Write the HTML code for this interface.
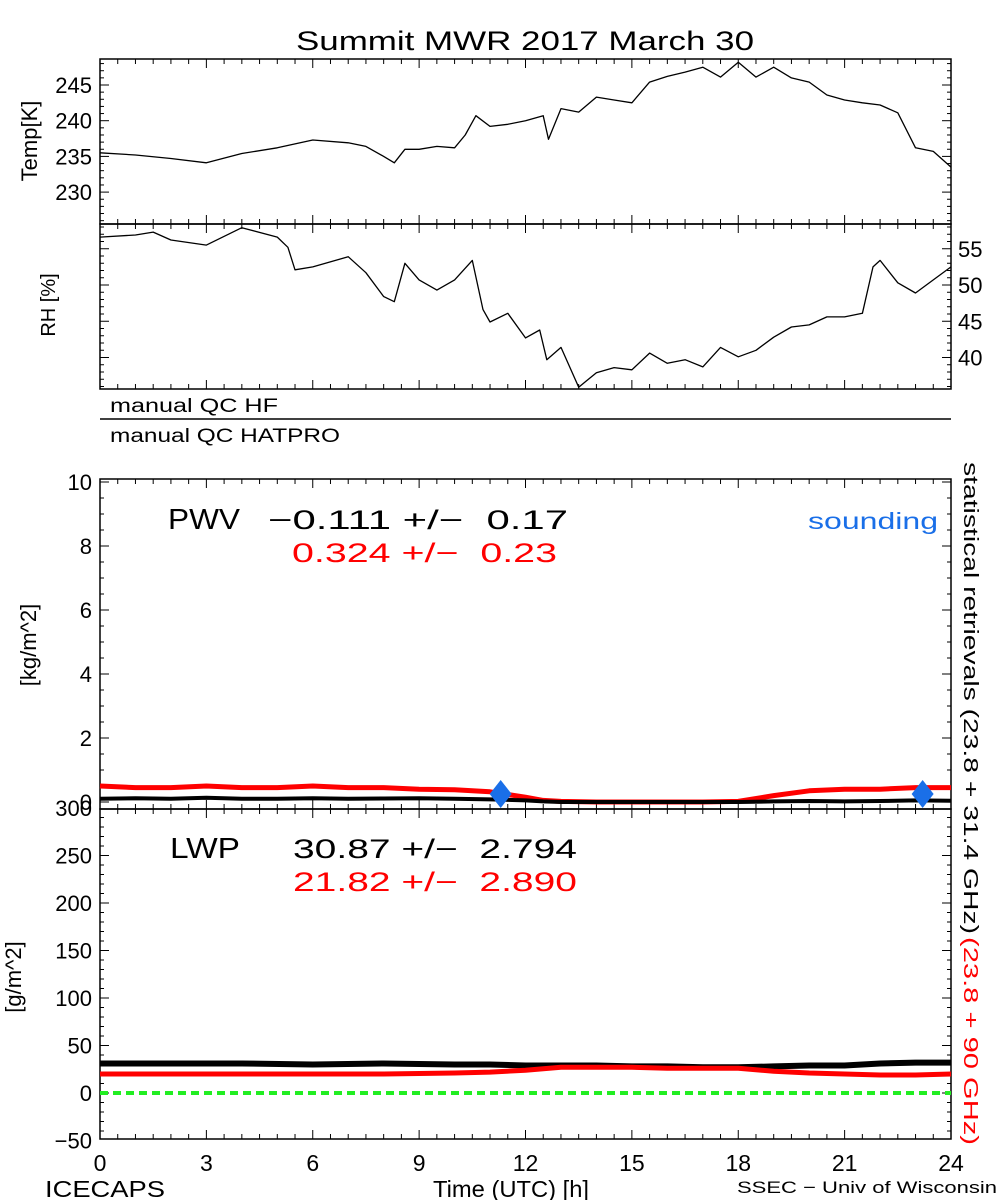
<!DOCTYPE html>
<html><head><meta charset="utf-8"><style>
html,body{margin:0;padding:0;background:#fff;}
svg{display:block;font-family:"Liberation Sans",sans-serif;}
</style></head><body>
<svg id="chart" width="1000" height="1200" viewBox="0 0 1000 1200" xmlns="http://www.w3.org/2000/svg">
<rect width="1000" height="1200" fill="#fff"/>
<text x="296" y="50" font-size="27" textLength="458" lengthAdjust="spacingAndGlyphs">Summit MWR 2017 March 30</text>
<g id="axes"></g>
<g id="marks"></g>
<text transform="translate(37,141) rotate(-90)" font-size="22" text-anchor="middle">Temp[K]</text>
<text transform="translate(55,305) rotate(-90)" font-size="20" text-anchor="middle">RH [%]</text>
<text x="110" y="412" font-size="19" textLength="168" lengthAdjust="spacingAndGlyphs">manual QC HF</text>
<line x1="100" y1="419" x2="951" y2="419" stroke="#000" stroke-width="1.5"/>
<text x="110" y="442" font-size="19" textLength="230" lengthAdjust="spacingAndGlyphs">manual QC HATPRO</text>
<text transform="translate(36,645) rotate(-90)" font-size="22" text-anchor="middle">[kg/m^2]</text>
<text transform="translate(21,977) rotate(-90)" font-size="22" text-anchor="middle">[g/m^2]</text>
<text x="168" y="529" font-size="29" textLength="72" lengthAdjust="spacingAndGlyphs">PWV</text>
<text x="268" y="529" font-size="27" xml:space="preserve" textLength="300" lengthAdjust="spacingAndGlyphs">−0.111 +/−  0.17</text>
<text x="292" y="562" font-size="27" fill="#ff0000" xml:space="preserve" textLength="265" lengthAdjust="spacingAndGlyphs">0.324 +/−  0.23</text>
<text x="808" y="529" font-size="23" fill="#1a6fe8" textLength="130" lengthAdjust="spacingAndGlyphs">sounding</text>
<text x="170" y="858" font-size="29" textLength="70" lengthAdjust="spacingAndGlyphs">LWP</text>
<text x="293" y="858" font-size="27" xml:space="preserve" textLength="284" lengthAdjust="spacingAndGlyphs">30.87 +/−  2.794</text>
<text x="293" y="891" font-size="27" fill="#ff0000" xml:space="preserve" textLength="284" lengthAdjust="spacingAndGlyphs">21.82 +/−  2.890</text>
<text transform="translate(964,462) rotate(90)" font-size="20" textLength="472" lengthAdjust="spacingAndGlyphs">statistical retrievals (23.8 + 31.4 GHz)</text>
<text transform="translate(964,937) rotate(90)" font-size="20" fill="#ff0000" textLength="208" lengthAdjust="spacingAndGlyphs">(23.8 + 90 GHz)</text>
<text x="45" y="1197" font-size="23" textLength="120" lengthAdjust="spacingAndGlyphs">ICECAPS</text>
<text x="433" y="1197" font-size="23" textLength="156" lengthAdjust="spacingAndGlyphs">Time (UTC) [h]</text>
<text x="737" y="1193" font-size="17" textLength="260" lengthAdjust="spacingAndGlyphs">SSEC − Univ of Wisconsin</text>
</svg>
<script>
const hours = [0,1,2,3,4,5,6,7,7.5,8,8.3,8.6,9,9.5,10,10.3,10.6,11,11.5,12,12.5,12.65,13,13.5,14,14.5,15,15.5,16,16.5,17,17.5,18,18.5,19,19.5,20,20.5,21,21.5,22,22.5,23,23.5,24];
const tempK = [235.5,235.2,234.7,234.1,235.4,236.2,237.3,236.9,236.4,235.0,234.1,236.0,236.0,236.4,236.2,238.0,240.7,239.2,239.5,240.0,240.7,237.4,241.7,241.2,243.3,242.9,242.5,245.4,246.2,246.8,247.5,246.1,248.2,246.1,247.5,246.0,245.4,243.6,242.9,242.5,242.2,241.1,236.2,235.7,233.5];
const rhHours = [0,1,1.5,2,3,4,5,5.3,5.5,6,7,7.5,8,8.3,8.6,9,9.5,10,10.5,10.8,11,11.5,12,12.4,12.6,13,13.5,14,14.5,15,15.5,16,16.5,17,17.5,18,18.5,19,19.5,20,20.5,21,21.5,21.8,22,22.5,23,23.5,24];
const rhPct = [56.6,56.9,57.3,56.2,55.5,57.9,56.6,55.2,52.1,52.5,53.9,51.7,48.4,47.7,53.0,50.7,49.3,50.7,53.4,46.6,44.9,46.1,42.7,43.8,39.7,41.4,35.9,37.9,38.6,38.3,40.6,39.2,39.7,38.7,41.4,40.1,41.0,42.8,44.2,44.5,45.6,45.6,46.1,52.5,53.4,50.3,48.9,50.7,52.5];
const pwvHours = [0,1,2,3,4,5,6,7,8,9,10,11,12,12.5,13,14,15,16,17,18,19,20,21,22,23,24];
const pwvBlack = [0.1,0.12,0.1,0.13,0.1,0.1,0.12,0.1,0.11,0.12,0.1,0.08,0.05,0.02,0,0,0,0,0,0,0.02,0.03,0.02,0.03,0.05,0.04];
const pwvRed = [0.5,0.45,0.45,0.5,0.45,0.45,0.5,0.45,0.45,0.4,0.38,0.32,0.15,0.05,0.02,0,0,0,0,0.02,0.2,0.35,0.4,0.4,0.45,0.45];
const soundHours = [11.3,23.2];
const soundPwv = [0.25,0.25];
const lwpHours = [0,2,4,6,8,10,11,12,13,14,15,16,17,18,19,20,21,22,23,24];
const lwpBlack = [31,31,31,30,31,30,30,29,29,29,28,28,27,27,28,29,29,31,32,32];
const lwpRed = [20,20,20,20,20,21,22,24,27,27,27,26,26,26,23,21,20,19,19,20];
const xTicks = [0,3,6,9,12,15,18,21,24];
const tempTicks = [230,235,240,245];
const rhTicks = [40,45,50,55];
const pwvTicks = [0,2,4,6,8,10];
const lwpTicks = [-50,0,50,100,150,200,250,300];

const NS = "http://www.w3.org/2000/svg";
const X0 = 100, X1 = 951;
const xs = h => X0 + (X1 - X0) * h / 24;
const yT = v => 85 + (245 - v) * 7.14;
const yRH = v => 285 + (50 - v) * 7.25;
const yP = v => 802 - 32 * v;
const yL = v => 1093 - 0.95 * v;
const axes = document.getElementById('axes');
const marks = document.getElementById('marks');
function mk(tag, attrs, parent) {
  const e = document.createElementNS(NS, tag);
  for (const k in attrs) e.setAttribute(k, attrs[k]);
  parent.appendChild(e);
  return e;
}
const panels = [
  {name:'temp', top:59, bot:224},
  {name:'rh', top:224, bot:389},
  {name:'pwv', top:479, bot:809},
  {name:'lwp', top:809, bot:1139}
];
panels.forEach(p => {
  const r = mk('rect', {x:X0, y:p.top, width:X1-X0, height:p.bot-p.top, fill:'none', stroke:'#000', 'stroke-width':1.5}, axes);
  
  
  for (let h = 0; h <= 24; h += 0.5) {
    const major = (h % 3 === 0);
    const len = major ? 9 : 5;
    const x = xs(h);
    mk('line', {x1:x, y1:p.bot, x2:x, y2:p.bot-len, stroke:'#000', 'stroke-width':1}, axes);
    mk('line', {x1:x, y1:p.top, x2:x, y2:p.top+len, stroke:'#000', 'stroke-width':1}, axes);
  }
});
function yTicks(vals, minorStep, lo, hi, f, top, bot, labelLeft, labelRight, name) {
  for (let v = lo; v <= hi + 1e-9; v += minorStep) {
    const y = f(v);
    if (y < top - 0.5 || y > bot + 0.5) continue;
    const major = vals.some(t => Math.abs(t - v) < 1e-6);
    const len = major ? 9 : 4;
    mk('line', {x1:X0, y1:y, x2:X0+len, y2:y, stroke:'#000'}, axes);
    mk('line', {x1:X1, y1:y, x2:X1-len, y2:y, stroke:'#000'}, axes);
  }
  vals.forEach(v => {
    const y = f(v);
    if (labelLeft) {
      const t = mk('text', {x:X0-8, y:y+8, 'font-size':22, 'text-anchor':'end'}, axes);
      t.textContent = v < 0 ? '−' + Math.abs(v) : String(v);
      
      
    }
    if (labelRight) {
      const t = mk('text', {x:X1+7, y:y+8, 'font-size':22, 'text-anchor':'start'}, axes);
      t.textContent = String(v);
      
      
    }
  });
}
yTicks(tempTicks, 1, 226, 248, yT, 59, 224, true, false, 'temp');
yTicks(rhTicks, 1, 36, 58, yRH, 224, 389, false, true, 'rh');
yTicks(pwvTicks, 0.5, 0, 10, yP, 479, 809, true, false, 'pwv');
yTicks(lwpTicks, 10, -50, 300, yL, 809, 1139, true, false, 'lwp');
xTicks.forEach(h => {
  const t = mk('text', {x:xs(h), y:1171, 'font-size':23, 'text-anchor':'middle'}, axes);
  t.textContent = String(h);
  
  
});
function line(hs, vs, fy, color, w, name) {
  const d = hs.map((h, i) => (i ? 'L' : 'M') + xs(h).toFixed(1) + ',' + fy(vs[i]).toFixed(1)).join('');
  const p = mk('path', {d:d, fill:'none', stroke:color, 'stroke-width':w, 'stroke-linejoin':'round'}, marks);
  
  
}
line(hours, tempK, yT, '#000', 1.3, 'temp-line');
line(rhHours, rhPct, yRH, '#000', 1.3, 'rh-line');
line(pwvHours, pwvRed, yP, '#ff0000', 5, 'pwv-red-line');
line(pwvHours, pwvBlack, yP, '#000', 4, 'pwv-black-line');
line(lwpHours, lwpBlack, yL, '#000', 6, 'lwp-black-line');
line(lwpHours, lwpRed, yL, '#ff0000', 5, 'lwp-red-line');
const zero = mk('line', {x1:X0, y1:yL(0), x2:X1, y2:yL(0), stroke:'#22ee22', 'stroke-width':4, 'stroke-dasharray':'8,5'}, marks);


soundHours.forEach((h, i) => {
  const x = xs(h), y = yP(soundPwv[i]);
  const d = mk('path', {d:`M${x},${y-14}L${x+11},${y}L${x},${y+14}L${x-11},${y}Z`, fill:'#1a6fe8'}, marks);
  
  
});
</script>
</body></html>
